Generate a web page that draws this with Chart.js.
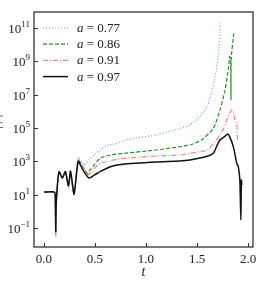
<!DOCTYPE html>
<html>
<head>
<meta charset="utf-8">
<script src="https://cdn.jsdelivr.net/npm/chart.js@4.4.0/dist/chart.umd.min.js"></script>
<style>
html, body { margin: 0; padding: 0; background: #fff; overflow: hidden; }
</style>
</head>
<body>
<canvas id="myChart" width="269" height="294"></canvas>
<script>
// values: time t and log10 of the plotted quantity
const tBlue = [0, 0.1, 0.11, 0.115, 0.12, 0.147, 0.18, 0.21, 0.24, 0.26, 0.295, 0.336, 0.39, 0.44, 0.5, 0.556, 0.61, 0.69, 0.78, 0.9, 1.1, 1.33, 1.43, 1.53, 1.6, 1.64, 1.69, 1.72, 1.73];
const logBlue = [1.16, 1.16, 1.0, -1.3, 0.5, 2.38, 2.0, 2.38, 1.35, 2.4, 1.0, 3.24, 2.78, 3.08, 3.45, 3.68, 3.95, 4.04, 4.24, 4.4, 4.58, 4.98, 5.18, 5.68, 6.3, 7.08, 8.48, 10.08, 11.28];

const tGreen = [0, 0.1, 0.11, 0.115, 0.12, 0.147, 0.18, 0.21, 0.24, 0.26, 0.295, 0.336, 0.425, 0.45, 0.55, 0.65, 0.78, 1.1, 1.43, 1.55, 1.66, 1.725, 1.775, 1.81, 1.82, 1.83, 1.833, 1.836, 1.86];
const logGreen = [1.16, 1.16, 1.0, -1.3, 0.5, 2.38, 2.0, 2.38, 1.5, 2.4, 1.0, 3.05, 2.28, 2.48, 3.18, 3.38, 3.48, 3.68, 3.98, 4.3, 4.98, 6.08, 7.28, 8.68, 9.3, 9.0, 6.7, 9.2, 10.68];

const tRed = [0, 0.1, 0.11, 0.115, 0.12, 0.147, 0.18, 0.21, 0.24, 0.26, 0.295, 0.336, 0.43, 0.45, 0.55, 0.78, 1.1, 1.33, 1.43, 1.6, 1.69, 1.725, 1.76, 1.79, 1.84, 1.86, 1.87, 1.89, 1.895];
const logRed = [1.16, 1.16, 1.0, -1.5, 0.5, 2.38, 2.0, 2.38, 1.5, 2.4, 1.0, 3.1, 2.18, 2.3, 2.88, 3.18, 3.32, 3.38, 3.48, 3.68, 4.28, 4.6, 4.95, 5.48, 6.08, 5.9, 5.48, 5.2, 4.28];

const tBlack = [0, 0.1, 0.11, 0.115, 0.12, 0.147, 0.18, 0.21, 0.24, 0.26, 0.295, 0.336, 0.38, 0.44, 0.5, 0.55, 0.65, 0.77, 1.1, 1.33, 1.43, 1.6, 1.66, 1.7, 1.725, 1.745, 1.77, 1.8, 1.82, 1.856, 1.89, 1.905, 1.92, 1.93, 1.935, 1.94];
const logBlack = [1.16, 1.16, 1.0, -1.22, 0.5, 2.38, 2.0, 2.38, 1.52, 2.4, 1.04, 3.0, 2.5, 2.0, 2.2, 2.38, 2.68, 2.82, 2.96, 3.02, 3.08, 3.3, 3.48, 4.0, 4.28, 4.38, 4.48, 4.64, 4.48, 3.88, 2.88, 2.68, 1.88, -0.52, 1.88, 1.58];

const aValues = ['0.77', '0.86', '0.91', '0.97'];
const xTicks = [0, 0.5, 1.0, 1.5, 2.0];
const yTickExp = [-1, 1, 3, 5, 7, 9, 11];

const serif = "'Liberation Serif', 'DejaVu Serif', serif";
const ink = '#222';

function pts(t, lg) {
    return t.map((v, i) => ({ x: v, y: Math.pow(10, lg[i]) }));
}

const styles = [
    { color: '#6aaef0', dash: [1, 2], width: 1.2 },
    { color: '#2e8b2e', dash: [4, 2], width: 1.2 },
    { color: '#f08a80', dash: [5, 2, 1, 2], width: 1.2 },
    { color: '#111111', dash: [], width: 1.5 }
];

const frame = {
    id: 'frame',
    afterDraw(chart) {
        const ctx = chart.ctx;
        const a = chart.chartArea;
        const xs = chart.scales.x, ys = chart.scales.y;
        ctx.save();
        ctx.strokeStyle = '#333';
        ctx.lineWidth = 1.3;
        ctx.setLineDash([]);
        ctx.strokeRect(a.left, a.top, a.right - a.left, a.bottom - a.top);

        // inward ticks
        ctx.lineWidth = 1;
        ctx.beginPath();
        xTicks.forEach(v => {
            const px = Math.round(xs.getPixelForValue(v)) + 0.5;
            ctx.moveTo(px, a.bottom);
            ctx.lineTo(px, a.bottom - 4);
        });
        yTickExp.forEach(e => {
            const py = Math.round(ys.getPixelForValue(Math.pow(10, e))) + 0.5;
            ctx.moveTo(a.left, py);
            ctx.lineTo(a.left + 4, py);
        });
        ctx.stroke();

        // y tick labels with superscript exponents
        ctx.fillStyle = ink;
        ctx.textBaseline = 'alphabetic';
        yTickExp.forEach(e => {
            const py = ys.getPixelForValue(Math.pow(10, e));
            const exp = e < 0 ? '\u2212' + Math.abs(e) : String(e);
            ctx.font = '9px ' + serif;
            const ew = ctx.measureText(exp).width;
            ctx.font = '13px ' + serif;
            const bw = ctx.measureText('10').width;
            const right = a.left - 4;
            ctx.textAlign = 'left';
            ctx.fillText('10', right - ew - bw, py + 5);
            ctx.font = '9px ' + serif;
            ctx.fillText(exp, right - ew, py - 1);
        });

        // y axis title, mostly cut off at the page edge
        ctx.save();
        ctx.translate(-3, 122);
        ctx.rotate(-Math.PI / 2);
        ctx.font = 'italic 13px ' + serif;
        ctx.textAlign = 'center';
        ctx.fillText('|\u03c8|', 0, 3);
        ctx.restore();

        // legend inside the plot
        aValues.forEach((val, i) => {
            const y = 28 + i * 16.2;
            const s = styles[i];
            ctx.strokeStyle = s.color;
            ctx.lineWidth = s.width;
            ctx.setLineDash(s.dash);
            ctx.beginPath();
            ctx.moveTo(43, y);
            ctx.lineTo(68, y);
            ctx.stroke();
            ctx.setLineDash([]);
            ctx.fillStyle = ink;
            ctx.textAlign = 'left';
            ctx.font = 'italic 13px ' + serif;
            ctx.fillText('a', 77, y + 4);
            const aw = ctx.measureText('a').width;
            ctx.font = '13px ' + serif;
            ctx.fillText(' = ' + val, 77 + aw, y + 4);
        });
        ctx.restore();
    }
};

const seriesT = [tBlue, tGreen, tRed, tBlack];
const seriesLog = [logBlue, logGreen, logRed, logBlack];

const ctx = document.getElementById('myChart').getContext('2d');
const myChart = new Chart(ctx, {
    type: 'line',
    data: {
        datasets: aValues.map((val, i) => ({
            label: 'a = ' + val,
            data: pts(seriesT[i], seriesLog[i]),
            borderColor: styles[i].color,
            borderDash: styles[i].dash,
            borderWidth: styles[i].width,
            pointRadius: 0,
            fill: false,
            tension: 0.2,
            order: 3 - i
        }))
    },
    options: {
        responsive: false,
        devicePixelRatio: 1,
        animation: false,
        layout: { padding: { left: 0, right: 16, top: 12, bottom: 13 } },
        plugins: { legend: { display: false }, tooltip: { enabled: false } },
        scales: {
            x: {
                type: 'linear',
                min: -0.098,
                max: 2.049,
                grid: { display: false, drawTicks: false },
                border: { display: false },
                afterBuildTicks: s => { s.ticks = xTicks.map(v => ({ value: v })); },
                afterFit: s => { s.height = 34; },
                ticks: {
                    padding: 5,
                    color: ink,
                    font: { family: serif, size: 13 },
                    maxRotation: 0,
                    callback: v => Number(v).toFixed(1)
                },
                title: {
                    display: true,
                    text: 't',
                    color: ink,
                    padding: { top: 0, bottom: 0 },
                    font: { family: serif, size: 14, style: 'italic' }
                }
            },
            y: {
                type: 'logarithmic',
                min: Math.pow(10, -2.14),
                max: Math.pow(10, 11.96),
                grid: { display: false, drawTicks: false },
                border: { display: false },
                ticks: { display: false },
                afterBuildTicks: s => { s.ticks = yTickExp.map(e => ({ value: Math.pow(10, e) })); },
                afterFit: s => { s.width = 34; }
            }
        }
    },
    plugins: [frame]
});
</script>
</body>
</html>
